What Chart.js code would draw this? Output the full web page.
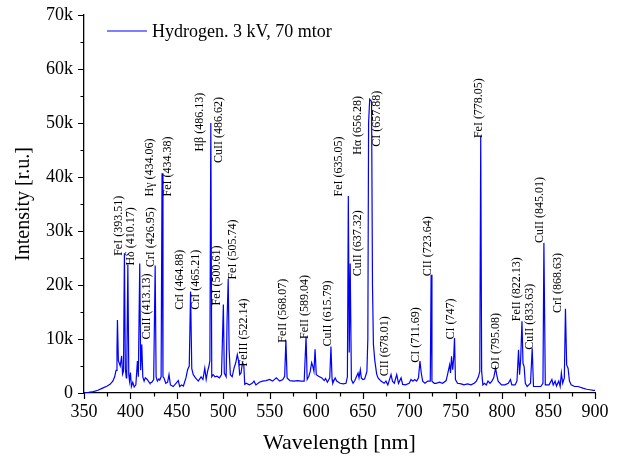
<!DOCTYPE html>
<html>
<head>
<meta charset="utf-8">
<script src="https://cdn.jsdelivr.net/npm/chart.js@4.4.0/dist/chart.umd.min.js"></script>
<style>
  html, body { margin: 0; padding: 0; background: #fff; }
</style>
</head>
<body>
<canvas id="spectrum" width="624" height="460"></canvas>
<script>
const seriesName = 'Hydrogen. 3 kV, 70 mtor';

// spectrum (nm, counts)
const wavelength = [
  350, 355, 360, 365, 370, 375, 378, 381, 383, 384.5, 385.5, 386, 387, 388, 389, 390.5, 391.5, 392.5,
  393.5, 394.5, 395.5, 396, 397.2, 398.2, 399, 400, 401, 402.5, 404, 405.8, 407.5, 408.5, 410, 411,
  412.2, 413.3, 414.7, 416, 418, 420, 421, 423, 425, 426.6, 427.6, 429, 430.5, 431.5, 433, 434, 435,
  436, 438, 440, 441.5, 443, 446, 449, 451.5, 453, 455, 457, 459.7, 461.5, 463.3, 464.7, 466, 467.6,
  470, 473, 476, 478, 480, 481.5, 483, 484.5, 485.5, 486.5, 487.5, 489, 491, 493, 495.8, 498, 500,
  501, 503, 504, 505.2, 506.2, 507.5, 509.5, 511.5, 513.3, 515, 516.3, 517.6, 519, 520.6, 522, 523,
  524.5, 528, 531, 533, 535, 538.8, 542, 546, 549.7, 553, 557, 560.6, 564, 566, 567.3, 568.6, 571.6,
  576, 580, 583.6, 587, 589, 590.2, 592, 593.5, 595, 596.2, 597.5, 598.7, 600, 602.5, 606, 608.5, 610,
  612, 614.5, 615.8, 617, 617.8, 620.3, 622, 625.6, 629, 632, 633.5, 634.5, 635.5, 636.5, 637.8, 639.6,
  641.5, 643.2, 645, 646, 647.4, 648.5, 650, 652, 653, 654.5, 655.5, 656.3, 657.5, 659.5, 660.5, 661.5,
  663, 665, 666.5, 669.6, 673, 675, 677, 680.5, 682, 684, 686.6, 688.5, 691.3, 693, 696, 700, 702, 704,
  706, 708, 710, 711.6, 713, 714.5, 717, 720, 722.7, 723.6, 724.5, 727, 729, 732.6, 736, 739.8, 741.6,
  743.5, 744.5, 745.6, 746.8, 747.8, 748.8, 749.8, 752, 756, 759, 762.8, 766.5, 770, 772.3, 774.5, 776,
  777, 778, 779.3, 781, 783, 784.8, 787, 789, 791, 793, 794.2, 795.7, 799.4, 803, 806.7, 809, 810.5,
  814, 816, 817.7, 818.8, 820, 821.4, 822.5, 823.7, 825, 827, 828.7, 830.6, 832.4, 833.8, 837.8, 841.6,
  844, 845, 846.5, 850.6, 853.6, 855, 857, 858.5, 861, 862.5, 863.8, 865.2, 867, 868.2, 869.5, 871,
  872.5, 874.4, 878, 881.8, 887, 891, 894.6, 898, 900
];
const intensity = [
  50, 100, 250, 500, 900, 1300, 1600, 2200, 3000, 4200, 8000, 13500, 6000, 5500, 5000, 6900, 3500, 4000,
  25900, 4500, 2800, 3800, 23800, 3500, 2200, 3800, 1200, 2000, 1100, 1500, 5900, 3000, 24000, 4200,
  9000, 3000, 2200, 2800, 2500, 2000, 1800, 2000, 2500, 23600, 3000, 2200, 2600, 2400, 3000, 40700, 3000,
  2800, 1800, 2000, 3400, 1500, 1200, 1800, 2300, 1200, 1500, 1300, 2800, 4300, 5000, 18800, 4500, 3400,
  2800, 2200, 3000, 2500, 4600, 2500, 4000, 5000, 6000, 50000, 3000, 3400, 3000, 3100, 2800, 3400, 16400,
  3700, 3000, 13600, 21100, 8000, 3400, 3000, 4600, 5600, 7100, 6000, 3400, 3700, 5600, 5200, 1600,
  1800, 1500, 1800, 2200, 1500, 2000, 2200, 2300, 2500, 2200, 2800, 2200, 2500, 3100, 9750, 2800, 2300,
  2200, 2300, 2200, 2200, 10400, 2500, 3100, 4000, 5600, 5000, 4000, 8100, 3400, 3100, 2800, 2300, 2700,
  2000, 2800, 8600, 2500, 1800, 2800, 2200, 1800, 1700, 1800, 3000, 36500, 7500, 24000, 2500, 1800,
  2300, 3000, 3700, 2800, 4300, 2800, 2500, 2600, 3100, 4000, 10000, 50000, 54400, 54000, 20000, 9000,
  6000, 3500, 2800, 2200, 1800, 2200, 1500, 3400, 2200, 1800, 3400, 1800, 2800, 1600, 1500, 1800, 2500, 2200,
  2500, 2200, 2800, 5900, 3700, 2200, 1800, 2200, 2200, 21900, 2200, 1800, 1800, 2000, 1800, 2300, 3700,
  5200, 3700, 6800, 4300, 6200, 10200, 2500, 1800, 1700, 1500, 1700, 1500, 1800, 2200, 3000, 4000,
  47600, 4000, 1500, 1800, 1500, 2200, 1800, 2200, 2800, 4600, 3400, 2200, 1500, 1500, 1800, 2500, 1500,
  1500, 2200, 8000, 3400, 6200, 13300, 5500, 4900, 1800, 1200, 1500, 1800, 8300, 1200, 1200, 1200,
  1800, 27800, 1500, 1500, 2500, 1500, 2200, 1300, 2200, 1200, 3700, 1800, 2800, 15600, 5200, 4600,
  2200, 1500, 1200, 1200, 900, 700, 600, 500, 500
];

// line identifications, anchored at the start of the rotated text (nm, counts)
const lineLabels = [
  'FeI (393.51)', 'H\u03b4 (410.17)', 'CuII (413.13)', 'CrI (426.95)', 'H\u03b3 (434.06)', 'FeI (434.38)',
  'H\u03b2 (486.13)', 'CuII (486.62)', 'CrI (464.88)', 'CrI (465.21)', 'FeI (500.61)', 'FeI (505.74)',
  'FeIII (522.14)', 'FeII (568.07)', 'FeII (589.04)', 'CuII (615.79)', 'FeI (635.05)', 'CuII (637.32)',
  'H\u03b1 (656.28)', 'CI (657.88)', 'CII (678.01)', 'CI (711.69)', 'CII (723.64)', 'CI (747)',
  'FeI (778.05)', 'OI (795.08)', 'FeII (822.13)', 'CuII (833.63)', 'CuII (845.01)', 'CrI (868.63)'
];
const labelWavelength = [
  387.7, 400.6, 417.5, 422, 421, 440.7,
  474.9, 495, 452.8, 470.6, 493, 510,
  522, 564.5, 587.3, 612, 624.7, 644.4,
  644.4, 665.4, 673.7, 707.7, 720, 744.5,
  775.2, 793.2, 816.3, 829.5, 840.8, 859.7
];
const labelIntensity = [
  25400, 23600, 9900, 23300, 36400, 36400,
  44700, 42600, 15400, 15400, 16200, 21000,
  4900, 9300, 10000, 8600, 36400, 21600,
  44100, 45600, 3100, 5600, 21600, 9900,
  47200, 4300, 13300, 8000, 27800, 14800
];

const xTicks = [350, 400, 450, 500, 550, 600, 650, 700, 750, 800, 850, 900];
const yTicks = [0, 10000, 20000, 30000, 40000, 50000, 60000, 70000];

const serif = "'Liberation Serif', 'Times New Roman', serif";
const blue = '#0000ff';

// outward major/minor tick marks (Chart.js has no minor ticks)
const tickMarks = {
  id: 'tickMarks',
  afterDraw(chart) {
    const ctx = chart.ctx;
    const xs = chart.scales.x, ys = chart.scales.y;
    ctx.save();
    ctx.strokeStyle = '#000';
    ctx.lineWidth = 1.2;
    ctx.beginPath();
    for (let v = 350; v <= 900; v += 25) {
      const px = Math.round(xs.getPixelForValue(v)) + 0.5;
      const len = v % 50 === 0 ? 6 : 3.5;
      ctx.moveTo(px, ys.bottom);
      ctx.lineTo(px, ys.bottom + len);
    }
    for (let v = 0; v <= 70000; v += 5000) {
      const py = Math.round(ys.getPixelForValue(v)) + 0.5;
      const len = v % 10000 === 0 ? 6 : 3.5;
      ctx.moveTo(xs.left, py);
      ctx.lineTo(xs.left - len, py);
    }
    ctx.stroke();
    ctx.restore();
  }
};

const lineNames = {
  id: 'lineNames',
  afterDatasetsDraw(chart) {
    const ctx = chart.ctx;
    const xs = chart.scales.x, ys = chart.scales.y;
    ctx.save();
    ctx.fillStyle = '#000';
    ctx.font = '12px ' + serif;
    ctx.textAlign = 'left';
    ctx.textBaseline = 'middle';
    lineLabels.forEach((txt, i) => {
      const px = xs.getPixelForValue(labelWavelength[i]);
      const py = ys.getPixelForValue(labelIntensity[i]);
      ctx.save();
      ctx.translate(px, py);
      ctx.rotate(-Math.PI / 2);
      ctx.fillText(txt, 0, 0);
      ctx.restore();
    });
    ctx.restore();
  }
};

const insideLegend = {
  id: 'insideLegend',
  afterDraw(chart) {
    const ctx = chart.ctx;
    const a = chart.chartArea;
    const y = a.top + 16;
    ctx.save();
    ctx.strokeStyle = blue;
    ctx.lineWidth = 1.2;
    ctx.beginPath();
    ctx.moveTo(a.left + 23, y);
    ctx.lineTo(a.left + 63, y);
    ctx.stroke();
    ctx.fillStyle = '#000';
    ctx.font = '18px ' + serif;
    ctx.textBaseline = 'middle';
    ctx.fillText(seriesName, a.left + 68, y + 1);
    ctx.restore();
  }
};

new Chart(document.getElementById('spectrum'), {
  type: 'line',
  data: {
    datasets: [
      {
        label: seriesName,
        data: wavelength.map((w, i) => ({ x: w, y: intensity[i] })),
        borderColor: blue,
        borderWidth: 1.2,
        pointRadius: 0,
        tension: 0,
        fill: false,
      },
    ],
  },
  options: {
    responsive: false,
    devicePixelRatio: 1,
    animation: false,
    layout: { padding: { top: 15, right: 29, left: 0, bottom: 0 } },
    plugins: {
      legend: { display: false },
      tooltip: { enabled: false },
    },
    scales: {
      x: {
        type: 'linear',
        min: 350,
        max: 900,
        afterBuildTicks: (scale) => { scale.ticks = xTicks.map((v) => ({ value: v })); },
        afterFit: (scale) => {
          scale.height = 67;
          scale.paddingLeft = 0;
          scale.paddingRight = 0;
        },
        grid: { drawOnChartArea: false, drawTicks: false },
        border: { display: true, color: '#000', width: 1.3 },
        ticks: { color: '#000', font: { family: serif, size: 18 }, padding: 8, maxRotation: 0 },
        title: {
          display: true,
          text: 'Wavelength [nm]',
          color: '#000',
          font: { family: serif, size: 22 },
          padding: { top: 0, bottom: 4 },
        },
      },
      y: {
        min: 0,
        max: 70000,
        afterBuildTicks: (scale) => { scale.ticks = yTicks.map((v) => ({ value: v })); },
        afterFit: (scale) => {
          scale.width = 84;
          scale.paddingTop = 0;
          scale.paddingBottom = 0;
        },
        grid: { drawOnChartArea: false, drawTicks: false },
        border: { display: true, color: '#000', width: 1.3 },
        ticks: {
          color: '#000',
          font: { family: serif, size: 18 },
          padding: 11,
          callback: (v) => (v === 0 ? '0' : v / 1000 + 'k'),
        },
        title: {
          display: true,
          text: 'Intensity [r.u.]',
          color: '#000',
          font: { family: serif, size: 20 },
          padding: { top: 12, bottom: 0 },
        },
      },
    },
  },
  plugins: [tickMarks, lineNames, insideLegend],
});
</script>
</body>
</html>
